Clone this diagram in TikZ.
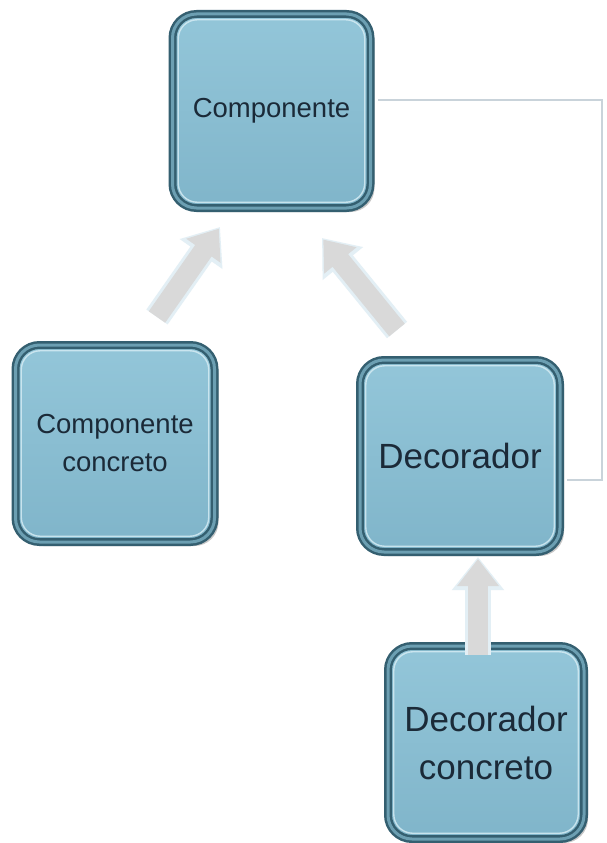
\documentclass[tikz,border=0pt]{standalone}
\usepackage{fontspec}
\setmainfont{Liberation Sans}
\usetikzlibrary{arrows.meta,shadows}
\definecolor{boxtop}{HTML}{93C6D9}
\definecolor{boxbot}{HTML}{80B5CA}
\definecolor{boxedge}{HTML}{345F70}
\definecolor{boxmid}{HTML}{6C9FB2}
\definecolor{boxhi}{HTML}{D4EBF3}
\definecolor{txt}{HTML}{1B2A38}
\definecolor{arrowfill}{HTML}{D9D9D9}
\definecolor{arrowglow}{HTML}{E3EFF5}
\definecolor{linkgray}{HTML}{C9D3DA}
\tikzset{
  box/.style={rectangle, rounded corners=24pt, minimum width=198pt, minimum height=194pt,
    inner sep=0pt, top color=boxtop, bottom color=boxbot,
    draw=boxedge, line width=2.5pt, double=boxmid, double distance=3pt,
    text=txt, align=center,
    drop shadow={shadow xshift=4pt, shadow yshift=-4pt, fill=black, opacity=0.22}},
  small/.style={font=\fontsize{27.5}{38}\selectfont},
  big/.style={font=\fontsize{35}{48}\selectfont},
  hilite/.style={draw=boxhi, line width=1.4pt, rounded corners=19pt, opacity=0.85},
  blockarrow/.style={draw=arrowfill, line width=20pt,
    -{Triangle[width=40pt,length=27pt]}, shorten >=2pt,
    preaction={draw=arrowglow, line width=26pt, -{Triangle[width=50pt,length=33pt]}, shorten >=0pt}},
  link/.style={draw=linkgray, line width=2.5pt}
}
\begin{document}
\begin{tikzpicture}[x=1pt,y=-1pt]
\useasboundingbox[fill=white] (0,0) rectangle (606,843);

% class boxes
\node[box, small] (c1) at (271.5,111) {Componente};
\node[box, small, minimum width=199pt, minimum height=197pt] (c2) at (115,443.5) {Componente\\concreto};
\node[box, big, minimum width=200pt, minimum height=192pt] (d1) at (460,456) {Decorador};
\node[box, big, minimum width=196pt, minimum height=193pt] (d2) at (486,742.5) {Decorador\\concreto};

% inner bevel highlight
\foreach \n in {c1,c2,d1,d2}
  \draw[hilite] ([shift={(7pt,7pt)}]\n.south west) rectangle ([shift={(-7pt,-7pt)}]\n.north east);

% inheritance arrows
\coordinate (a1t) at (157,317);
\coordinate (a1h) at (220,227);
\coordinate (a2t) at (397,330);
\coordinate (a2h) at (322,238);
\coordinate (a3t) at (478,655);
\coordinate (a3h) at (478,557);
\draw[blockarrow] (a1t) -- (a1h);
\draw[blockarrow] (a2t) -- (a2h);
\draw[blockarrow] (a3t) -- (a3h);

% composition link from Decorador back to Componente
\coordinate (l1) at (602,100);
\coordinate (l2) at (602,480);
\draw[link] ([xshift=6pt,yshift=11pt]c1.east) -- (l1) -- (l2) -- ([xshift=6pt,yshift=-24pt]d1.east);
\end{tikzpicture}
\end{document}
